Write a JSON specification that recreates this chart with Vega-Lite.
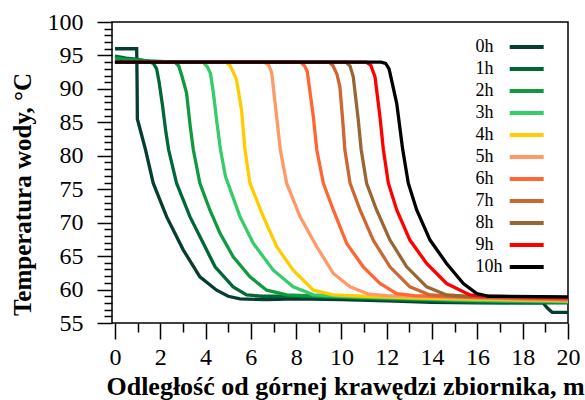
{
  "$schema": "https://vega.github.io/schema/vega-lite/v6.json",
  "width": 456,
  "height": 301,
  "autosize": {"type": "none"},
  "padding": {"left": 112, "top": 22, "right": 17, "bottom": 77},
  "background": "white",
  "config": {
    "view": {"stroke": "black", "strokeWidth": 1.5},
    "axis": {"labelFont": "Liberation Serif", "titleFont": "Liberation Serif", "labelColor": "black", "titleColor": "black", "tickColor": "black", "tickWidth": 1.5, "grid": false, "domain": false},
    "legend": {"labelFont": "Liberation Serif"}
  },
  "data": {"values": [
    {"h":"0h","x":0,"t":96},{"h":"0h","x":0.96,"t":96},{"h":"0h","x":0.98,"t":90},{"h":"0h","x":0.99,"t":85.5},{"h":"0h","x":1.35,"t":80.9},{"h":"0h","x":1.69,"t":75.9},{"h":"0h","x":2.28,"t":70.9},{"h":"0h","x":3.02,"t":65.9},{"h":"0h","x":3.75,"t":61.9},{"h":"0h","x":4.49,"t":59.9},{"h":"0h","x":5.0,"t":59.0},{"h":"0h","x":5.52,"t":58.6},{"h":"0h","x":6.7,"t":58.5},{"h":"0h","x":8,"t":58.6},{"h":"0h","x":10,"t":58.5},{"h":"0h","x":12,"t":58.3},{"h":"0h","x":14,"t":58.1},{"h":"0h","x":16,"t":58.0},{"h":"0h","x":18.9,"t":58.0},{"h":"0h","x":19.1,"t":57.2},{"h":"0h","x":19.3,"t":56.6},{"h":"0h","x":20,"t":56.6},

    {"h":"1h","x":0,"t":94.9},{"h":"1h","x":0.5,"t":94.6},{"h":"1h","x":1.0,"t":94.4},{"h":"1h","x":1.5,"t":94.1},{"h":"1h","x":1.7,"t":93.8},{"h":"1h","x":1.84,"t":93.0},{"h":"1h","x":1.95,"t":91.0},{"h":"1h","x":2.1,"t":87.5},{"h":"1h","x":2.25,"t":83.5},{"h":"1h","x":2.37,"t":80.9},{"h":"1h","x":2.72,"t":75.9},{"h":"1h","x":3.31,"t":70.9},{"h":"1h","x":4.05,"t":65.9},{"h":"1h","x":4.42,"t":63.4},{"h":"1h","x":5.22,"t":60.4},{"h":"1h","x":5.81,"t":59.2},{"h":"1h","x":6.5,"t":59.0},{"h":"1h","x":8,"t":59.0},{"h":"1h","x":10,"t":58.8},{"h":"1h","x":12,"t":58.5},{"h":"1h","x":14,"t":58.3},{"h":"1h","x":16,"t":58.1},{"h":"1h","x":18,"t":58.0},{"h":"1h","x":20,"t":58.0},

    {"h":"2h","x":0,"t":94.6},{"h":"2h","x":0.5,"t":94.4},{"h":"2h","x":1.0,"t":94.3},{"h":"2h","x":1.5,"t":94.2},{"h":"2h","x":2.0,"t":94.1},{"h":"2h","x":2.65,"t":94.0},{"h":"2h","x":2.82,"t":93.4},{"h":"2h","x":2.95,"t":92.0},{"h":"2h","x":3.16,"t":89.4},{"h":"2h","x":3.32,"t":84.5},{"h":"2h","x":3.46,"t":80.9},{"h":"2h","x":3.75,"t":75.9},{"h":"2h","x":4.19,"t":71.9},{"h":"2h","x":4.64,"t":68.4},{"h":"2h","x":5.22,"t":64.9},{"h":"2h","x":5.96,"t":61.9},{"h":"2h","x":6.7,"t":59.9},{"h":"2h","x":7.58,"t":59.2},{"h":"2h","x":9,"t":59.0},{"h":"2h","x":12,"t":58.7},{"h":"2h","x":15,"t":58.4},{"h":"2h","x":18,"t":58.2},{"h":"2h","x":20,"t":58.1},

    {"h":"3h","x":0,"t":94.0},{"h":"3h","x":3.9,"t":94.0},{"h":"3h","x":4.08,"t":93.3},{"h":"3h","x":4.22,"t":92.3},{"h":"3h","x":4.36,"t":89.0},{"h":"3h","x":4.5,"t":85.0},{"h":"3h","x":4.66,"t":80.9},{"h":"3h","x":4.88,"t":76.9},{"h":"3h","x":5.52,"t":70.9},{"h":"3h","x":6.11,"t":66.9},{"h":"3h","x":6.99,"t":62.9},{"h":"3h","x":7.87,"t":60.4},{"h":"3h","x":8.76,"t":59.2},{"h":"3h","x":10,"t":59.0},{"h":"3h","x":13,"t":58.7},{"h":"3h","x":16,"t":58.4},{"h":"3h","x":20,"t":58.2},

    {"h":"4h","x":0,"t":94.0},{"h":"4h","x":4.9,"t":94.0},{"h":"4h","x":5.08,"t":93.5},{"h":"4h","x":5.25,"t":92.3},{"h":"4h","x":5.37,"t":91.3},{"h":"4h","x":5.59,"t":86.8},{"h":"4h","x":5.74,"t":80.9},{"h":"4h","x":5.96,"t":75.9},{"h":"4h","x":6.55,"t":70.9},{"h":"4h","x":7.14,"t":66.4},{"h":"4h","x":7.87,"t":62.9},{"h":"4h","x":8.76,"t":59.9},{"h":"4h","x":9.64,"t":59.2},{"h":"4h","x":11,"t":59.0},{"h":"4h","x":14,"t":58.7},{"h":"4h","x":17,"t":58.5},{"h":"4h","x":20,"t":58.3},

    {"h":"5h","x":0,"t":94.0},{"h":"5h","x":6.6,"t":94.0},{"h":"5h","x":6.8,"t":93.5},{"h":"5h","x":6.92,"t":92.4},{"h":"5h","x":7.14,"t":85.8},{"h":"5h","x":7.3,"t":80.9},{"h":"5h","x":7.58,"t":75.9},{"h":"5h","x":8.17,"t":70.9},{"h":"5h","x":8.91,"t":66.4},{"h":"5h","x":9.64,"t":62.4},{"h":"5h","x":10.38,"t":60.4},{"h":"5h","x":11.2,"t":59.3},{"h":"5h","x":12,"t":59.1},{"h":"5h","x":15,"t":58.8},{"h":"5h","x":18,"t":58.5},{"h":"5h","x":20,"t":58.4},

    {"h":"6h","x":0,"t":94.0},{"h":"6h","x":8.2,"t":94.0},{"h":"6h","x":8.38,"t":93.4},{"h":"6h","x":8.49,"t":92.6},{"h":"6h","x":8.76,"t":85.8},{"h":"6h","x":8.91,"t":80.9},{"h":"6h","x":9.2,"t":75.9},{"h":"6h","x":9.64,"t":71.9},{"h":"6h","x":10.23,"t":66.9},{"h":"6h","x":10.96,"t":63.4},{"h":"6h","x":11.7,"t":60.9},{"h":"6h","x":12.44,"t":59.4},{"h":"6h","x":13.2,"t":59.1},{"h":"6h","x":16,"t":58.8},{"h":"6h","x":20,"t":58.5},

    {"h":"7h","x":0,"t":94.0},{"h":"7h","x":9.45,"t":94.0},{"h":"7h","x":9.62,"t":93.5},{"h":"7h","x":9.8,"t":92.2},{"h":"7h","x":9.93,"t":90.3},{"h":"7h","x":10.05,"t":85.5},{"h":"7h","x":10.15,"t":80.9},{"h":"7h","x":10.38,"t":75.9},{"h":"7h","x":10.82,"t":71.9},{"h":"7h","x":11.4,"t":67.4},{"h":"7h","x":12.14,"t":63.4},{"h":"7h","x":13.02,"t":60.4},{"h":"7h","x":13.9,"t":59.2},{"h":"7h","x":15,"t":59.0},{"h":"7h","x":17.5,"t":58.8},{"h":"7h","x":20,"t":58.6},

    {"h":"8h","x":0,"t":94.0},{"h":"8h","x":10.2,"t":94.0},{"h":"8h","x":10.38,"t":93.4},{"h":"8h","x":10.52,"t":91.8},{"h":"8h","x":10.74,"t":85.4},{"h":"8h","x":10.87,"t":80.9},{"h":"8h","x":11.11,"t":75.9},{"h":"8h","x":11.55,"t":71.9},{"h":"8h","x":12.14,"t":67.4},{"h":"8h","x":12.88,"t":63.4},{"h":"8h","x":13.76,"t":60.4},{"h":"8h","x":14.64,"t":59.2},{"h":"8h","x":15.5,"t":59.0},{"h":"8h","x":18,"t":58.8},{"h":"8h","x":20,"t":58.7},

    {"h":"9h","x":0,"t":94.0},{"h":"9h","x":11.1,"t":94.0},{"h":"9h","x":11.3,"t":93.5},{"h":"9h","x":11.48,"t":91.8},{"h":"9h","x":11.7,"t":85.8},{"h":"9h","x":11.85,"t":80.9},{"h":"9h","x":12.07,"t":75.9},{"h":"9h","x":12.44,"t":71.9},{"h":"9h","x":13.02,"t":67.4},{"h":"9h","x":13.76,"t":63.9},{"h":"9h","x":14.64,"t":60.9},{"h":"9h","x":15.67,"t":59.2},{"h":"9h","x":16.5,"t":59.0},{"h":"9h","x":20,"t":58.8},

    {"h":"10h","x":0,"t":94.0},{"h":"10h","x":11.75,"t":94.0},{"h":"10h","x":11.95,"t":93.8},{"h":"10h","x":12.1,"t":93.0},{"h":"10h","x":12.2,"t":91.5},{"h":"10h","x":12.44,"t":87.8},{"h":"10h","x":12.7,"t":81.0},{"h":"10h","x":12.95,"t":75.9},{"h":"10h","x":13.32,"t":71.9},{"h":"10h","x":13.91,"t":67.4},{"h":"10h","x":14.64,"t":63.9},{"h":"10h","x":15.38,"t":60.9},{"h":"10h","x":15.97,"t":59.4},{"h":"10h","x":16.5,"t":59.0},{"h":"10h","x":20,"t":58.9}
  ]},
  "layer": [
    {
      "mark": {"type": "line", "opacity": 0},
      "encoding": {
        "x": {"field": "x", "type": "quantitative", "scale": {"domain": [-0.13, 20], "nice": false, "zero": false},
              "axis": {"orient": "bottom", "values": [1,3,5,7,9,11,13,15,17,19], "labels": false, "tickSize": 9, "title": null}},
        "y": {"field": "t", "type": "quantitative", "scale": {"domain": [55, 100], "nice": false, "zero": false},
              "axis": {"orient": "left", "values": [56,57,58,59,61,62,63,64,66,67,68,69,71,72,73,74,76,77,78,79,81,82,83,84,86,87,88,89,91,92,93,94,96,97,98,99], "labels": false, "tickSize": 8, "title": null}},
        "detail": {"field": "h"}
      }
    },
    {
      "mark": {"type": "line", "strokeWidth": 3.3, "interpolate": "linear"},
      "encoding": {
        "x": {"field": "x", "type": "quantitative", "scale": {"domain": [-0.13, 20], "nice": false, "zero": false},
              "axis": {"orient": "bottom", "values": [0,2,4,6,8,10,12,14,16,18,20], "tickSize": 16, "labelFont": "Liberation Serif", "labelFontSize": 24, "labelPadding": 6, "labelFlush": false,
                       "title": "Odległość od górnej krawędzi zbiornika, m", "titleFont": "Liberation Serif", "titleFontSize": 26, "titleFontWeight": "bold", "titlePadding": 4, "titleX": 233}},
        "y": {"field": "t", "type": "quantitative", "scale": {"domain": [55, 100], "nice": false, "zero": false},
              "axis": {"orient": "left", "values": [55,60,65,70,75,80,85,90,95,100], "tickSize": 15, "labelFont": "Liberation Serif", "labelFontSize": 24, "labelPadding": 14, "labelFlush": false,
                       "title": "Temperatura wody, °C", "titleFont": "Liberation Serif", "titleFontSize": 25, "titleFontWeight": "bold", "titlePadding": 12, "titleY": 172}},
        "color": {"field": "h", "type": "nominal",
                  "scale": {"domain": ["0h","1h","2h","3h","4h","5h","6h","7h","8h","9h","10h"],
                            "range": ["#053d30","#006837","#0e9a3e","#35cc69","#ffcc00","#ff9966","#ff6633","#cc6633","#996633","#ff0000","#000000"]},
                  "legend": {"orient": "none", "legendX": 402.2, "legendY": 12.4, "title": null, "padding": 0,
                             "symbolType": "M-1.65,0H1.65", "symbolSize": 424, "symbolStrokeWidth": 4, "symbolFillColor": "transparent",
                             "labelFont": "Liberation Serif", "labelFontSize": 18, "labelColor": "black",
                             "labelAlign": "left", "labelOffset": -63.8, "rowPadding": 0}},
        "order": {"field": "x", "type": "quantitative"}
      }
    }
  ],
  "resolve": {"axis": {"x": "independent", "y": "independent"}}
}
